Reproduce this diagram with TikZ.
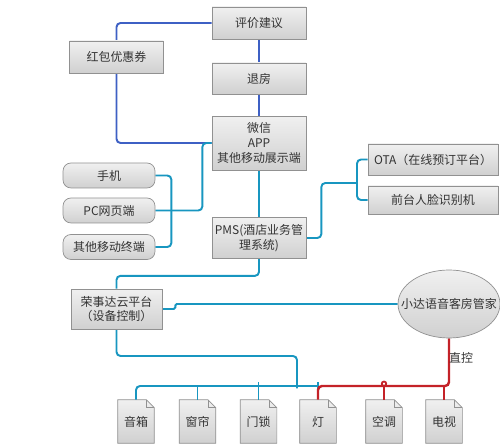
\documentclass[tikz,border=0pt]{standalone}
\usepackage{fontspec}
\setmainfont{Noto Sans CJK SC}
\usetikzlibrary{shapes.geometric,backgrounds}

\definecolor{linkblue}{RGB}{62,96,196}
\definecolor{linkteal}{RGB}{24,150,192}
\definecolor{linkred}{RGB}{196,34,40}
\definecolor{boxedge}{RGB}{145,145,145}
\definecolor{inktext}{RGB}{51,51,51}
\definecolor{shadetop}{RGB}{240,240,240}
\definecolor{shadebot}{RGB}{208,208,208}

\tikzset{
  box/.style={draw=boxedge, top color=shadetop, bottom color=shadebot, minimum width=1.88cm,
    minimum height=0.64cm, align=center, inner sep=1pt, text=inktext,
    font=\fontsize{6.8}{8.4}\selectfont},
  termbox/.style={box, rounded corners=0.16cm, minimum width=1.84cm, minimum height=0.5cm},
  voicebox/.style={ellipse, draw=boxedge, top color=shadetop, bottom color=shadebot, inner sep=0pt,
    minimum width=2.04cm, minimum height=1.36cm},
  docbox/.style={minimum width=0.72cm, minimum height=0.86cm, inner sep=0pt, text=inktext,
    font=\fontsize{6.8}{8.4}\selectfont},
  docsheet/.style={draw=boxedge, top color=shadetop, bottom color=shadebot},
  blueline/.style={draw=linkblue, line width=1.1pt, rounded corners=0.08cm},
  tealline/.style={draw=linkteal, line width=1.1pt, rounded corners=0.08cm},
  redline/.style={draw=linkred, line width=1.4pt, rounded corners=0.08cm}
}

\begin{document}
\begin{tikzpicture}[x=0.02cm,y=-0.02cm]
\useasboundingbox (0,0) rectangle (500,445);

% guest side
\node[box] (eval) at (259,23) {评价建议};
\node[box] (coupon) at (116.5,57) {红包优惠券};
\node[box, minimum height=0.62cm] (checkout) at (259,78.5) {退房};
\node[box, minimum height=1.08cm] (wechat) at (259,143) {微信\\APP\\其他移动展示端};
\node[termbox] (phone) at (109,175.5) {手机};
\node[termbox] (pc) at (109,210.5) {PC网页端};
\node[termbox] (mobile) at (109,247) {其他移动终端};

% hotel side
\node[box, minimum height=0.82cm] (pms) at (259,238) {PMS(酒店业务管\\理系统)};
\node[box, minimum width=2.6cm, minimum height=0.62cm] (ota) at (433,159.5) {OTA（在线预订平台）};
\node[box, minimum width=2.6cm, minimum height=0.56cm] (face) at (433,200) {前台人脸识别机};
\node[box, minimum width=1.82cm, minimum height=0.8cm] (cloud) at (116.5,309) {荣事达云平台\\（设备控制）};
\node[voicebox, label={[text=inktext, font=\fontsize{6.8}{8.4}\selectfont]center:小达语音客房管家}] (voice) at (449,304) {};

% room devices
\node[docbox] (speaker) at (136,421.5) {音箱};
\node[docbox] (curtain) at (197.5,421.5) {窗帘};
\node[docbox] (lock) at (258.5,421.5) {门锁};
\node[docbox] (lamp) at (318,421.5) {灯};
\node[docbox] (aircon) at (384,421.5) {空调};
\node[docbox] (tv) at (444,421.5) {电视};
\node[text=inktext, font=\fontsize{6.8}{8.4}\selectfont] (direct) at (461,358) {直控};

\coordinate (fork) at (357,183);
\coordinate (tap) at (297,356);
\coordinate (busend) at (318,386);

\begin{scope}[on background layer]
\foreach \n in {speaker,curtain,lock,lamp,aircon,tv}{
  \path[docsheet]
    (\n.south west) -- (\n.north west) -- ([xshift=-0.16cm]\n.north east)
    -- ([yshift=-0.16cm]\n.north east) -- (\n.south east) -- cycle;
  \draw[boxedge] ([xshift=-0.16cm]\n.north east) -- ([xshift=-0.16cm,yshift=-0.16cm]\n.north east)
    -- ([yshift=-0.16cm]\n.north east);
}
% feedback loop
\draw[blueline] (eval.west) -| (coupon.north);
\draw[blueline] (coupon.south) |- (wechat.west);
\draw[blueline] (eval.south) -- (checkout.north);
\draw[blueline] (checkout.south) -- (wechat.north);
% terminals
\draw[tealline] (wechat.south) -- (pms.north);
\draw[tealline] (phone.east) -- ++(16,0) |- (mobile.east);
\draw[tealline] (pc.east) -- ++(47,0) |- (wechat.west);
\draw[tealline] (pms.east) -- ++(15,0) |- (fork);
\draw[tealline] (ota.west) -| (fork) |- (face.west);
\draw[tealline] (pms.south) -- ++(0,17) -| (cloud.north);
\draw[tealline, rounded corners=0.03cm] (cloud.east) -- ++(13,0) |- (voice.west);
% device bus
\draw[tealline] (cloud.south) |- (tap) -- ([yshift=-0.05cm]tap |- busend);
\draw[tealline] (speaker.north) |- (busend);
\draw[tealline] ([yshift=0.07cm]busend) -- ([yshift=-0.07cm]busend);
\draw[tealline] (curtain.north) -- (curtain.north |- busend);
\draw[tealline] (lock.north) -- ([yshift=0.07cm]lock.north |- busend);
\draw[redline] (voice.south) |- (busend) -- (lamp.north);
\draw[redline] (aircon.north) -- (aircon.north |- busend);
\draw[linkred, line width=1pt] ([yshift=0.045cm]aircon.north |- busend) circle (0.045cm);
\draw[redline] (tv.north) -- (tv.north |- busend);
\end{scope}
\end{tikzpicture}
\end{document}
